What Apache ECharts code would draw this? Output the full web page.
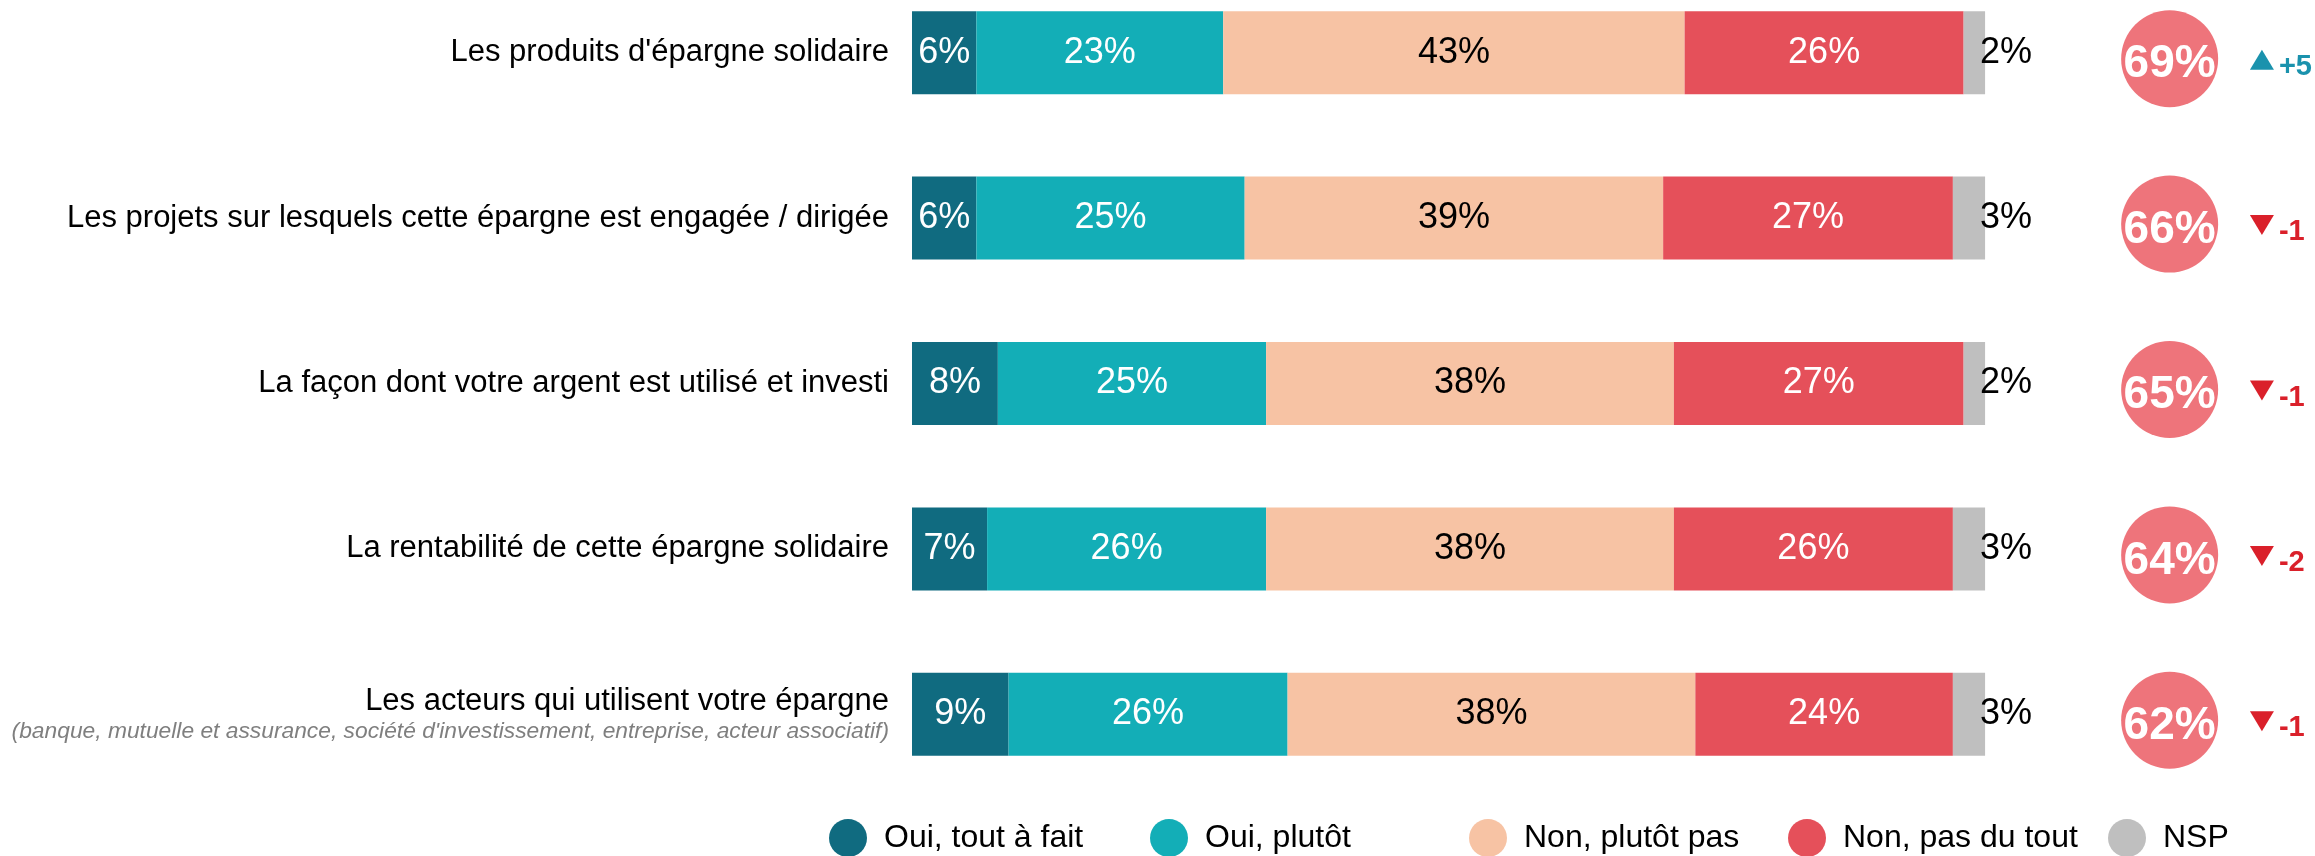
<!DOCTYPE html>
<html>
<head>
<meta charset="utf-8">
<script src="https://cdn.jsdelivr.net/npm/echarts@6/dist/echarts.min.js"></script>
<style>
  html, body { margin: 0; padding: 0; background: #fff; overflow: hidden; }
  /* la première ligne déborde un peu en haut : on décale le conteneur */
  #main { position: absolute; left: 0; top: -30px; width: 2315px; height: 886px; }
</style>
</head>
<body>
<div id="main"></div>
<script>
  // libellés des lignes
  var categories = [
    "Les produits d'épargne solidaire",
    "Les projets sur lesquels cette épargne est engagée / dirigée",
    "La façon dont votre argent est utilisé et investi",
    "La rentabilité de cette épargne solidaire",
    "Les acteurs qui utilisent votre épargne"
  ];
  var sousTitre = "(banque, mutuelle et assurance, société d'investissement, entreprise, acteur associatif)";

  var ouiToutAFait = [6, 6, 8, 7, 9];
  var ouiPlutot = [23, 25, 25, 26, 26];
  var nonPlutotPas = [43, 39, 38, 38, 38];
  var nonPasDuTout = [26, 27, 27, 26, 24];
  var nsp = [2, 3, 2, 3, 3];

  var totalNon = [69, 66, 65, 64, 62];
  var evolution = [5, -1, -1, -2, -1];

  var FONT = "'Liberation Sans', Arial, sans-serif";
  var xCercle = 117.2;   // position de la pastille sur l'axe
  var xFleche = 125.8;   // position du triangle

  function barSerie(name, data, color, txtColor) {
    return {
      name: name,
      type: 'bar',
      stack: 'total',
      barWidth: 83,
      data: data,
      itemStyle: { color: color },
      label: {
        show: true,
        position: 'inside',
        formatter: '{c}%',
        color: txtColor,
        fontFamily: FONT,
        fontSize: 36
      }
    };
  }

  var myChart = echarts.init(document.getElementById('main'));
  var series = [
    barSerie('Oui, tout à fait', ouiToutAFait, '#106b80', '#fff'),
    barSerie('Oui, plutôt', ouiPlutot, '#13aeb7', '#fff'),
    barSerie('Non, plutôt pas', nonPlutotPas, '#f7c3a4', '#000'),
    barSerie('Non, pas du tout', nonPasDuTout, '#e5505a', '#fff'),
    barSerie('NSP', nsp, '#bfbfbf', '#000')
  ];
  // le label NSP est à droite de la barre
  series[4].label.position = 'right';
  series[4].label.distance = 0;
  series[4].label.offset = [-5, 0];

  series.push({
    name: 'total',
    type: 'scatter',
    symbol: 'circle',
    symbolSize: 97,
    symbolOffset: [0, 6],
    itemStyle: { color: '#ee747b', opacity: 1 },
    data: totalNon.map(function (v, i) { return [xCercle, i]; }),
    label: {
      show: true,
      position: 'inside',
      offset: [0, 6],
      color: '#fff',
      fontFamily: FONT,
      fontWeight: 'bold',
      fontSize: 46,
      formatter: function (p) { return totalNon[p.dataIndex] + '%'; }
    },
    z: 5
  });

  series.push({
    name: 'evolution',
    type: 'scatter',
    symbol: 'triangle',
    symbolSize: [24, 20],
    symbolOffset: [0, 7],
    data: evolution.map(function (v, i) {
      var up = v > 0;
      var col = up ? '#1a92ad' : '#da202a';
      return {
        value: [xFleche, i],
        symbolRotate: up ? 0 : 180,
        itemStyle: { color: col, opacity: 1 },
        label: { color: col }
      };
    }),
    label: {
      show: true,
      position: 'right',
      distance: 5,
      offset: [0, 7],
      fontFamily: FONT,
      fontWeight: 'bold',
      fontSize: 29,
      formatter: function (p) {
        var v = evolution[p.dataIndex];
        return (v > 0 ? '+' : '') + v;
      }
    },
    z: 5
  });

  var legendLefts = [829, 1150, 1469, 1788, 2108];
  var legendNames = ['Oui, tout à fait', 'Oui, plutôt', 'Non, plutôt pas', 'Non, pas du tout', 'NSP'];
  var legends = legendNames.map(function (n, i) {
    return {
      data: [n],
      left: legendLefts[i],
      top: 849,
      padding: 0,
      icon: 'circle',
      itemWidth: 38,
      itemHeight: 38,
      selectedMode: false,
      textStyle: {
        fontFamily: FONT,
        fontSize: 32,
        color: '#000',
        padding: [0, 0, 0, 12]
      }
    };
  });

  myChart.setOption({
    animation: false,
    backgroundColor: '#fff',
    legend: legends,
    grid: {
      left: 912,
      top: 0,
      width: 1395,
      height: 827
    },
    xAxis: {
      type: 'value',
      min: 0,
      max: 130,
      show: false
    },
    yAxis: {
      type: 'category',
      inverse: true,
      data: categories,
      axisLine: { show: false },
      axisTick: { show: false },
      splitLine: { show: false },
      axisLabel: {
        margin: 23,
        fontFamily: FONT,
        fontSize: 31,
        color: '#000',
        formatter: function (val, idx) {
          if (idx === 4) {
            return '{a|' + val + '}\n{b|' + sousTitre + '}';
          }
          return val;
        },
        rich: {
          a: { fontFamily: FONT, fontSize: 31, color: '#000', lineHeight: 34, padding: [4, 0, 0, 0], align: 'right' },
          b: { fontFamily: FONT, fontSize: 22.8, color: '#7f7f7f', fontStyle: 'italic', lineHeight: 30, align: 'right' }
        }
      }
    },
    series: series
  });
</script>
</body>
</html>
